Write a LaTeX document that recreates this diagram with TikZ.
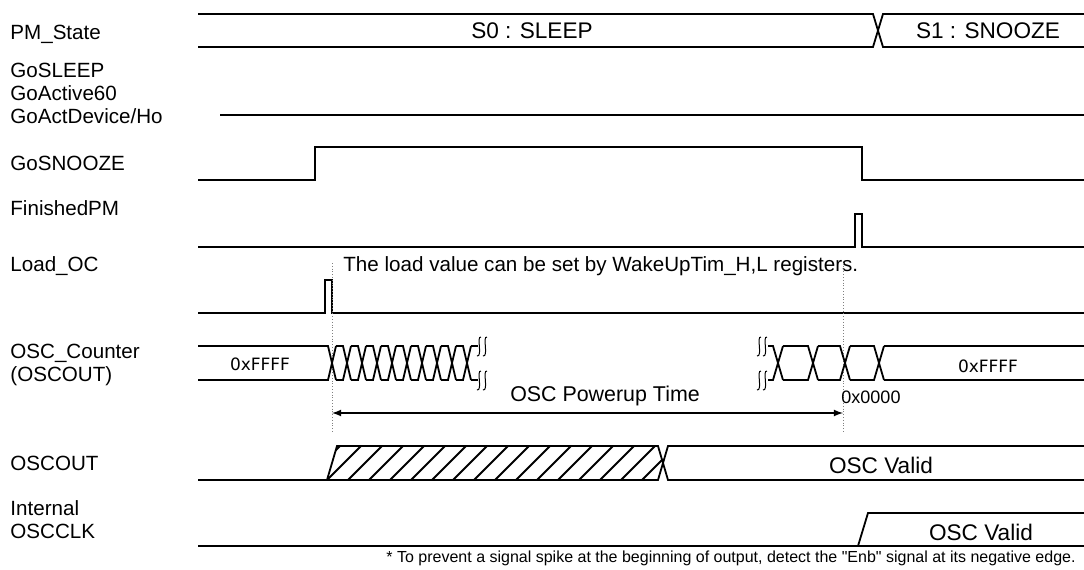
\documentclass[tikz,border=0pt]{standalone}
\usepackage{fontspec}
\setmainfont{Liberation Sans}
\newfontfamily\hexfont{DejaVu Sans}
\newfontfamily\notefont[Ligatures=ResetAll]{Liberation Sans}
\usepackage{tikz}
\usetikzlibrary{arrows,positioning,calc}

\begin{document}
\begin{tikzpicture}[x=0.5pt,y=-0.5pt,
        wave/.style={line width=0.9pt, black},
        sname/.style={anchor=west, inner sep=0pt, font=\fontsize{10.3}{12.4}\selectfont},
        bustext/.style={inner sep=0pt, font=\fontsize{11.3}{13.5}\selectfont},
        hexval/.style={inner sep=0pt, font=\hexfont\fontsize{8.5}{10}\selectfont},
        guide/.style={densely dotted, line width=0.4pt, gray},
        dimline/.style={latex-latex, line width=0.6pt},
        squig/.style={line width=0.5pt}]

        \useasboundingbox (0,0) rectangle (1084,569);

        % signal names
        \node[sname] (nPM) at (10,34) {PM\_State};
        \node[sname] (nSleep) at (10,70) {GoSLEEP};
        \node[sname] (nAct60) at (10,93) {GoActive60};
        \begin{scope}
            \clip (0,100) rectangle (163,132);
            \node[sname] (nActDev) at (10,116) {GoActDevice/Ho};
        \end{scope}
        \node[sname] (nSnooze) at (10,163) {GoSNOOZE};
        \node[sname] (nFin) at (10,208) {FinishedPM};
        \node[sname] (nLoad) at (10,266) {Load\_OC};
        \node[sname] (nCnt) at (10,353) {OSC\_Counter};
        \node[sname] (nCntOut) at (10,376) {(OSCOUT)};
        \node[sname] (nOut) at (10,463) {OSCOUT};
        \node[sname] (nInt) at (10,508) {Internal};
        \node[sname] (nClk) at (10,531) {OSCCLK};

        % PM_State
        \draw[wave] (198,14) -- (873,14) -- (883,47) -- (1084,47);
        \draw[wave] (198,47) -- (873,47) -- (883,14) -- (1084,14);
        \node[bustext] (sSleep) at (532,31) {S0 : SLEEP};
        \node[bustext] (sSnooze) at (988,31) {S1 : SNOOZE};

        % GoSLEEP / GoActive60 / GoActDevice
        \draw[wave] (220,115) -- (1084,115);

        % GoSNOOZE
        \draw[wave] (198,180) -- (315,180) -- (315,147) -- (862,147) -- (862,180) -- (1084,180);

        % FinishedPM
        \draw[wave] (198,247) -- (855,247) -- (855,214) -- (862,214) -- (862,247) -- (1084,247);

        % Load_OC
        \draw[wave] (198,313) -- (325,313) -- (325,280) -- (332,280) -- (332,313) -- (1084,313);
        \node[sname] (tLoad) at (343,266) {The load value can be set by WakeUpTim\_H,L registers.};

        % guide lines
        \coordinate (gA1) at (332,263);
        \coordinate (gA2) at (332,433);
        \coordinate (gB1) at (843,263);
        \coordinate (gB2) at (843,433);
        \draw[guide] (gA1) -- (gA2);
        \draw[guide] (gB1) -- (gB2);

        % OSC_Counter, counting down
        \draw[wave] (198,346) -- (328,346) -- (336,380);
        \draw[wave] (198,380) -- (328,380) -- (336,346);
        \foreach \c in {347,362,...,467} {
            \draw[wave] (\c-11,346) -- (\c-4,346) -- (\c+4,380);
            \draw[wave] (\c-11,380) -- (\c-4,380) -- (\c+4,346);
        }
        \draw[wave] (471,346) -- (478,346);
        \draw[wave] (471,380) -- (478,380);
        \foreach \s in {478,484,758,764} {
            \draw[squig] (\s+3,337) .. controls (\s-2,336) and (\s+5,357) .. (\s-1,356);
            \draw[squig] (\s+3,371) .. controls (\s-2,370) and (\s+5,391) .. (\s-1,390);
        }
        \draw[wave] (768,346) -- (773,346) -- (783,380);
        \draw[wave] (768,380) -- (773,380) -- (783,346);
        \foreach \p/\c in {783/813,818/845,850/879} {
            \draw[wave] (\p,346) -- (\c-5,346) -- (\c+5,380);
            \draw[wave] (\p,380) -- (\c-5,380) -- (\c+5,346);
        }
        \draw[wave] (884,346) -- (1084,346);
        \draw[wave] (884,380) -- (1084,380);
        \node[hexval] (vStart) at (260,364) {0xFFFF};
        \node[hexval] (vEnd) at (988,366) {0xFFFF};
        \node[inner sep=0pt, font=\fontsize{9}{11}\selectfont] (vZero) at (871,397) {0x0000};

        % powerup time
        \coordinate (pwrL) at (332,413);
        \coordinate (pwrR) at (843,413);
        \draw[dimline] (pwrL) -- (pwrR);
        \node[inner sep=0pt, font=\fontsize{10.7}{13}\selectfont] (tPwr) at (605,396) {OSC Powerup Time};

        % OSCOUT
        \draw[wave] (198,480) -- (327,480);
        \begin{scope}
            \clip (327,480) -- (337,446) -- (658,446) -- (663,463) -- (658,480) -- cycle;
            \foreach \i in {0,...,17}
                \draw[line width=0.9pt] (306+21*\i,480) -- ++(34,-34);
        \end{scope}
        \draw[wave] (327,480) -- (337,446) -- (658,446) -- (668,480) -- (1084,480);
        \draw[wave] (327,480) -- (658,480) -- (668,446) -- (1084,446);
        \node[bustext] (vOut) at (881,465) {OSC Valid};

        % Internal OSCCLK
        \draw[wave] (198,546) -- (1084,546);
        \draw[wave] (858,546) -- (868,513) -- (1084,513);
        \node[bustext] (vClk) at (981,532) {OSC Valid};

        \node[anchor=east, inner sep=0pt, font=\notefont\fontsize{8}{9.6}\selectfont] (note) at (1076,558)
            {* To prevent a signal spike at the beginning of output, detect the "Enb" signal at its negative edge.};

    \end{tikzpicture}
\end{document}
